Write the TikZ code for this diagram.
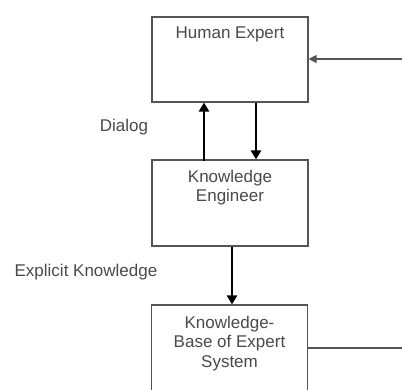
\documentclass[tikz,border=0pt]{standalone}
\usepackage{fontspec}
\setmainfont{Liberation Sans}
\usetikzlibrary{arrows.meta}
\definecolor{boxline}{HTML}{555555}
\definecolor{txt}{HTML}{4A4A4A}
\tikzset{
  box/.style={draw=boxline, line width=1.1pt, fill=white, minimum width=156pt, inner sep=0pt},
  lbl/.style={text=txt, font=\fontsize{17}{19.5}\selectfont, align=center, inner sep=0pt},
  flow/.style={draw=black, line width=2.8pt, -{Triangle[length=9pt,width=10pt]}},
  feedback/.style={draw=boxline, line width=1.1pt, -{Triangle[length=8pt,width=8pt]}}
}
\begin{document}
\begin{tikzpicture}[x=1pt,y=-1pt]
\useasboundingbox[fill=white] (0,0) rectangle (402,390);
% boxes
\node[box, minimum height=85pt] (he) at (230,59.5) {};
\node[box, minimum height=86pt] (ke) at (230,203) {};
\node[box, minimum height=96pt] (kb) at (229.5,353) {};
% box texts
\node[lbl, anchor=north] (het) at ([yshift=-10.5pt]he.north) {Human Expert};
\node[lbl, anchor=north] (ket) at ([yshift=-10.5pt]ke.north) {Knowledge\\Engineer};
\node[lbl, anchor=north] (kbt) at ([yshift=-11.5pt]kb.north) {Knowledge-\\Base of Expert\\System};
% side labels
\node[lbl] (dlg) at (124,127) {Dialog};
\node[lbl] (exk) at (86,272) {Explicit Knowledge};
% dialog arrows
\draw[flow] (he.south -| 204,0) ++(0,58) coordinate (u0) -- (he.south -| u0);
\draw[flow] (he.south -| 256,0) -- (ke.north -| 256,0);
% knowledge engineer to knowledge base
\draw[flow] (ke.south -| 232,0) -- (kb.north -| 232,0);
% feedback loop running just past the right edge
\coordinate (rb) at (404,348);
\coordinate (rt) at (404,59);
\draw[draw=boxline, line width=1.1pt] (kb.east |- rb) -- (rb) -- (rt);
\draw[feedback] (rt) -- (he.east |- rt);
\end{tikzpicture}
\end{document}
